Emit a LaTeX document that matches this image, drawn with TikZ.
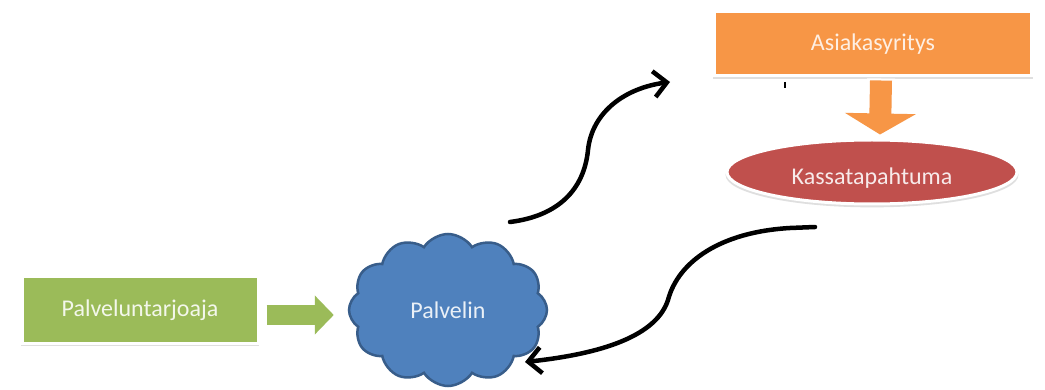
\documentclass[tikz,border=0pt]{standalone}
\usepackage{fontspec}
\setmainfont{Carlito}
\usetikzlibrary{shapes.geometric,shapes.symbols,arrows.meta,shadows}
\definecolor{cgreen}{HTML}{9BBB59}
\definecolor{corange}{HTML}{F79646}
\definecolor{cred}{HTML}{C0504D}
\definecolor{cblue}{HTML}{4F81BD}
\definecolor{cbluedark}{HTML}{385D8A}
\tikzset{
  lbl/.style={font=\fontsize{24}{28}\selectfont},
  box/.style={rectangle, draw=white, line width=3pt, inner sep=0pt,
    drop shadow={opacity=0.25, shadow xshift=0pt, shadow yshift=-3pt, shadow scale=1.01}},
  blk/.style={line width=4.5pt, line cap=round, black,
    -{Straight Barb[length=13pt,width=26pt,line width=4.5pt]}},
}
\begin{document}
\begin{tikzpicture}[x=1pt,y=-1pt]
\useasboundingbox (0,0) rectangle (1045,390);
\fill[white] (0,0) rectangle (1045,390);

% nodes
\node[box, lbl, fill=cgreen, text=white!88!cgreen, minimum width=236pt, minimum height=66pt] (prov) at (140,310) {Palveluntarjoaja};
\node[box, lbl, fill=corange, text=white!85!corange, minimum width=317pt, minimum height=64pt] (cust) at (873,44) {Asiakasyritys};
\node[ellipse, lbl, draw=white, line width=3pt, fill=cred, text=white!88!cred, minimum width=290pt, minimum height=64pt, inner sep=0pt,
  drop shadow={opacity=0.25, shadow xshift=0pt, shadow yshift=-3pt, shadow scale=1.01}] (kassa) at (872,172) {\raisebox{-13pt}[0pt][0pt]{Kassatapahtuma}};
\node[cloud, cloud puffs=12, cloud puff arc=115, aspect=1.33, draw=cbluedark, line width=2.5pt, fill=cblue, lbl, text=white!88!cblue,
  minimum width=198pt, minimum height=152pt, inner sep=0pt] (server) at (448,310) {Palvelin};

% green block arrow
\coordinate (gws) at ([xshift=5pt,yshift=-5pt]prov.east);
\coordinate (gwe) at ([xshift=-11pt,yshift=-5pt]server.west);
\coordinate (gs) at ([xshift=7pt,yshift=-5pt]prov.east);
\coordinate (ge) at ([xshift=-14pt,yshift=-5pt]server.west);
\draw[white, line width=26pt, -{Triangle[length=24pt,width=50pt]}] (gws) -- (gwe);
\draw[cgreen, line width=20pt, -{Triangle[length=19pt,width=38pt]}] (gs) -- (ge);

% orange block arrow
\coordinate (ows) at ([xshift=8pt,yshift=-1pt]cust.south);
\coordinate (owe) at ([xshift=8pt,yshift=0pt]kassa.north);
\coordinate (os) at ([xshift=8pt,yshift=-3pt]cust.south);
\coordinate (oe) at ([xshift=8pt,yshift=4pt]kassa.north);
\draw[white, line width=28pt, -{Triangle[length=26pt,width=80pt]}] (ows) -- (owe);
\draw[corange, line width=22pt, -{Triangle[length=21pt,width=70pt]}] (os) -- (oe);

% small tick
\draw[line width=1.2pt] (785,82) -- (785,88);

% black curved arrows
\coordinate (a1s) at (510,222);
\coordinate (a1e) at (670,82);
\draw[blk] (a1s) .. controls (558,216) and (584,190) .. (588,150) .. controls (592,112) and (625,88) .. (a1e);

\coordinate (a2s) at (815,227);
\coordinate (a2e) at (525,362);
\draw[blk] (a2s) -- (790,228) .. controls (720,232) and (678,262) .. (668,300) .. controls (655,340) and (590,355) .. (a2e);
\end{tikzpicture}
\end{document}
